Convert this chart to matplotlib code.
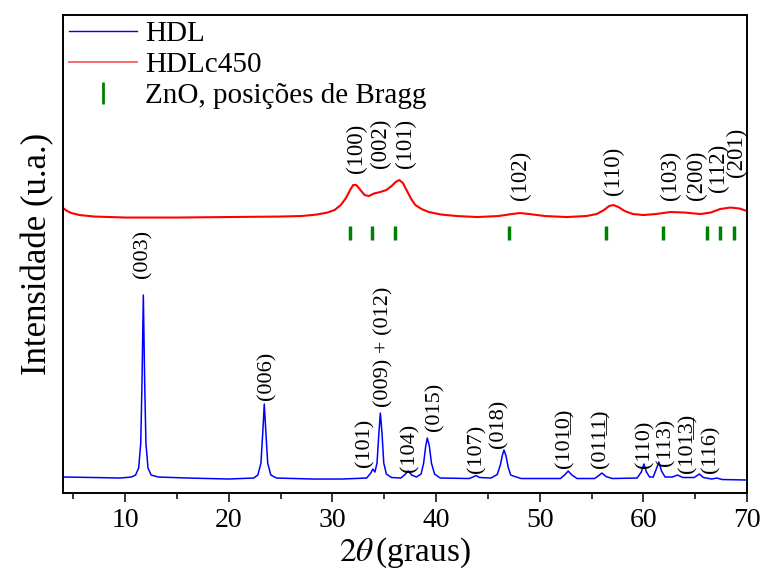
import matplotlib
matplotlib.use("Agg")
import matplotlib.pyplot as plt
from matplotlib.lines import Line2D
from matplotlib.ticker import MultipleLocator

plt.rcParams['font.family'] = ['Liberation Serif', 'DejaVu Serif']
plt.rcParams['mathtext.fontset'] = 'stix'

UL = '\u0332'

# HDL pattern (blue), 2theta vs intensity (a.u.)
hdl_x = [4, 7, 9.5, 10.6, 11.0, 11.3, 11.5, 11.62, 11.75, 11.88, 12.0, 12.2, 12.5, 13.2, 16, 20,
         22.4, 22.8, 23.1, 23.3, 23.42, 23.55, 23.75, 24.05, 24.6, 28, 31,
         33.3, 33.7, 33.9, 34.1, 34.3, 34.48, 34.62, 34.78, 34.95, 35.2, 35.7,
         36.6, 36.95, 37.3, 37.65, 38.1, 38.55, 38.8, 39.0, 39.15, 39.35, 39.55, 39.85, 40.4,
         43.2, 43.55, 43.85, 44.2, 45.3, 45.9, 46.2, 46.4, 46.55, 46.75, 46.95, 47.2, 47.6, 48.2,
         52.0, 52.4, 52.75, 53.1, 53.6, 55.3, 55.7, 56.0, 56.4, 57.0,
         59.4, 59.8, 60.05, 60.3, 60.6, 60.95, 61.25, 61.5, 61.75, 62.1,
         62.8, 63.3, 63.8, 64.9, 65.4, 65.8, 66.6, 67.1, 67.6, 70]
hdl_y = [16, 15.5, 15, 16, 18, 25, 50, 110, 198, 110, 50, 25, 18, 16, 15, 14,
         15, 18, 30, 65, 89, 65, 30, 18, 15, 14, 14,
         15, 20, 24, 21, 30, 60, 80, 60, 30, 19, 15.5,
         15, 18, 22, 18, 16, 19, 30, 47, 55, 47, 30, 19, 15,
         14.5, 16, 17.5, 15.5, 15, 18.5, 28, 38, 43, 37, 26, 18, 16.5, 14.5,
         14.5, 18, 22, 18, 14.5, 14.5, 17.5, 20, 16.5, 14.5,
         15, 21, 29, 21, 16, 16, 24, 31, 22, 16,
         16, 18, 15.5, 15.5, 19, 15.5, 14, 15, 13.5, 13]

# HDLc450 pattern (red)
c450_x = [4, 4.4, 4.8, 5.6, 7, 10, 15, 20, 25, 27, 28.5, 29.5, 30.2, 30.8, 31.3, 31.7,
          32.0, 32.3, 32.7, 33.1, 33.5, 34.0, 34.6, 35.2, 35.7, 36.1, 36.45, 36.8,
          37.2, 37.6, 38.0, 38.6, 39.3, 40.5, 42, 44, 46, 47.3, 48.1, 49, 50.5,
          52.6, 54.5, 55.5, 56.2, 56.7, 57.1, 57.6, 58.2, 59.0, 60.0, 61.2, 62.6,
          64.0, 65.5, 66.5, 67.4, 68.4, 69.3, 70]
c450_y = [285, 282, 280, 278, 276.5, 275.5, 275.5, 276, 276.5, 277, 278.5, 280.5, 283, 288, 295, 303,
          308, 308, 303, 298, 297, 299.5, 301, 303, 307, 311, 313, 310,
          302, 294, 288, 284, 281, 278.5, 277, 276, 277, 279, 280, 279, 277,
          276, 277, 279, 283, 287, 288, 286, 282, 279, 278, 279, 281,
          280.5, 279, 280.5, 284, 285.5, 284.5, 282]

# ZnO Bragg positions
zno_pos = [31.7, 33.8, 36.0, 47.0, 56.4, 61.9, 66.1, 67.4, 68.7]
zno_lo, zno_hi = 253, 267

hdl_labels = ['(003)', '(006)', '(101)', '(009) + (012)', '(104)', '(015)',
              '(107)', '(018)', '(10' + '1' + UL + '0' + UL + ')',
              '(01' + '1' + UL + '1' + UL + ')', '(110)', '(113)',
              '(10' + '1' + UL + '3' + UL + ')', '(116)']
hdl_lx = [11.72, 23.65, 33.14, 34.97, 37.43, 39.9, 43.95, 46.07, 52.44,
          55.91, 60.15, 62.2, 64.25, 66.55]
hdl_ly = [215, 93, 26, 86, 21, 62, 20, 45, 25, 25, 25, 27, 20, 20]

c450_labels = ['(100)', '(002)', '(101)', '(102)', '(110)', '(103)',
               '(200)', '(112)', '(201)']
c450_lx = [32.33, 34.65, 37.0, 48.1, 57.1, 62.57, 65.14, 67.23, 69.0]
c450_ly = [320, 325, 325, 293, 298, 293, 293, 301, 316]

fig = plt.figure(figsize=(7.63, 5.79), dpi=100)
ax = fig.add_axes([0.0826, 0.1485, 0.8964, 0.8255])

ax.plot(hdl_x, hdl_y, color='blue', lw=1.1, label='HDL')
ax.plot(c450_x, c450_y, color='red', lw=1.5, label='HDLc450')
ax.vlines(zno_pos, zno_lo, zno_hi, color='green', lw=2.5)

for t, x, y in zip(hdl_labels, hdl_lx, hdl_ly):
    ax.text(x, y, t, rotation=90, ha='center', va='bottom', fontsize=16)
for t, x, y in zip(c450_labels, c450_lx, c450_ly):
    ax.text(x, y, t, rotation=90, ha='center', va='bottom', fontsize=16.5)

ax.set_xlim(4, 70)
ax.set_ylim(0, 478)
ax.xaxis.set_major_locator(MultipleLocator(10))
ax.xaxis.set_minor_locator(MultipleLocator(5))
ax.tick_params(axis='x', which='major', direction='out', length=6.5, width=1.1,
               labelsize=20, pad=4)
ax.tick_params(axis='x', which='minor', direction='out', length=4.3, width=1.1)
ax.set_yticks([])
for s in ax.spines.values():
    s.set_linewidth(1.4)

ax.set_xlabel(r'$2\theta\,$(graus)', fontsize=24, labelpad=2)
ax.set_ylabel('Intensidade (u.a.)', fontsize=25, labelpad=6)

handles = [Line2D([], [], color='blue', lw=1.0),
           Line2D([], [], color='#f06060', lw=1.3),
           Line2D([], [], color='green', marker='|', ls='None', ms=16, mew=2)]
ax.legend(handles, ['HDL', 'HDLc450', 'ZnO, posições de Bragg'], loc='upper left',
          bbox_to_anchor=(0, 1), borderaxespad=0, borderpad=0.2, frameon=False,
          fontsize=21, handlelength=2.35, handletextpad=0.25, labelspacing=0.15)

fig.savefig('out.png', dpi=100)
